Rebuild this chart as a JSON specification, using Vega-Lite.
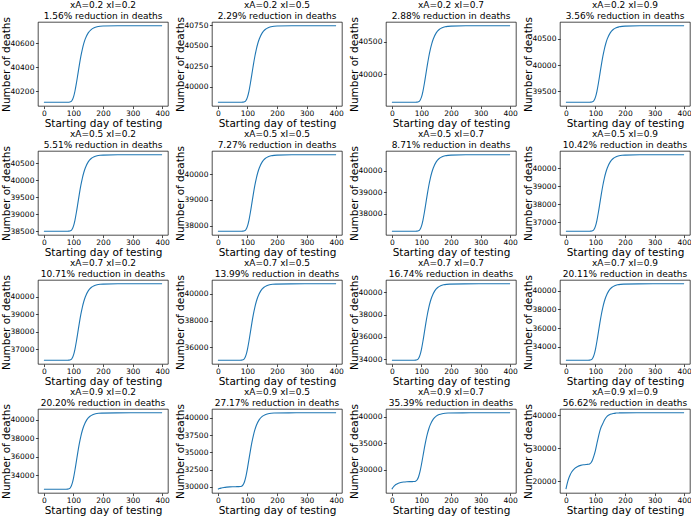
{
  "$schema": "https://vega.github.io/schema/vega-lite/v6.json",
  "background": "white",
  "padding": {"left": 0, "top": 0, "right": 0, "bottom": 0},
  "data": {
    "values": [
      {"p":1,"d":0,"n":40109},{"p":1,"d":40,"n":40109},{"p":1,"d":80,"n":40109},{"p":1,"d":85,"n":40109},{"p":1,"d":90,"n":40112},{"p":1,"d":95,"n":40123},{"p":1,"d":100,"n":40151},{"p":1,"d":105,"n":40200},{"p":1,"d":110,"n":40267},{"p":1,"d":115,"n":40343},{"p":1,"d":120,"n":40420},{"p":1,"d":125,"n":40490},{"p":1,"d":130,"n":40549},{"p":1,"d":135,"n":40598},{"p":1,"d":140,"n":40636},{"p":1,"d":150,"n":40686},{"p":1,"d":160,"n":40714},{"p":1,"d":170,"n":40729},{"p":1,"d":180,"n":40737},{"p":1,"d":190,"n":40741},{"p":1,"d":200,"n":40743},{"p":1,"d":250,"n":40745},{"p":1,"d":300,"n":40745},{"p":1,"d":400,"n":40745},
      {"p":2,"d":0,"n":39812},{"p":2,"d":40,"n":39812},{"p":2,"d":80,"n":39812},{"p":2,"d":85,"n":39813},{"p":2,"d":90,"n":39817},{"p":2,"d":95,"n":39833},{"p":2,"d":100,"n":39874},{"p":2,"d":105,"n":39945},{"p":2,"d":110,"n":40043},{"p":2,"d":115,"n":40155},{"p":2,"d":120,"n":40268},{"p":2,"d":125,"n":40370},{"p":2,"d":130,"n":40458},{"p":2,"d":135,"n":40529},{"p":2,"d":140,"n":40584},{"p":2,"d":150,"n":40659},{"p":2,"d":160,"n":40700},{"p":2,"d":170,"n":40722},{"p":2,"d":180,"n":40733},{"p":2,"d":190,"n":40739},{"p":2,"d":200,"n":40742},{"p":2,"d":250,"n":40745},{"p":2,"d":300,"n":40745},{"p":2,"d":400,"n":40745},
      {"p":3,"d":0,"n":39572},{"p":3,"d":40,"n":39572},{"p":3,"d":80,"n":39572},{"p":3,"d":85,"n":39573},{"p":3,"d":90,"n":39578},{"p":3,"d":95,"n":39599},{"p":3,"d":100,"n":39649},{"p":3,"d":105,"n":39739},{"p":3,"d":110,"n":39863},{"p":3,"d":115,"n":40004},{"p":3,"d":120,"n":40145},{"p":3,"d":125,"n":40274},{"p":3,"d":130,"n":40384},{"p":3,"d":135,"n":40473},{"p":3,"d":140,"n":40543},{"p":3,"d":150,"n":40637},{"p":3,"d":160,"n":40688},{"p":3,"d":170,"n":40715},{"p":3,"d":180,"n":40730},{"p":3,"d":190,"n":40737},{"p":3,"d":200,"n":40741},{"p":3,"d":250,"n":40745},{"p":3,"d":300,"n":40745},{"p":3,"d":400,"n":40745},
      {"p":4,"d":0,"n":39295},{"p":4,"d":40,"n":39295},{"p":4,"d":80,"n":39295},{"p":4,"d":85,"n":39296},{"p":4,"d":90,"n":39302},{"p":4,"d":95,"n":39328},{"p":4,"d":100,"n":39391},{"p":4,"d":105,"n":39502},{"p":4,"d":110,"n":39654},{"p":4,"d":115,"n":39829},{"p":4,"d":120,"n":40003},{"p":4,"d":125,"n":40163},{"p":4,"d":130,"n":40299},{"p":4,"d":135,"n":40409},{"p":4,"d":140,"n":40496},{"p":4,"d":150,"n":40611},{"p":4,"d":160,"n":40675},{"p":4,"d":170,"n":40709},{"p":4,"d":180,"n":40726},{"p":4,"d":190,"n":40735},{"p":4,"d":200,"n":40740},{"p":4,"d":250,"n":40745},{"p":4,"d":300,"n":40745},{"p":4,"d":400,"n":40745},
      {"p":5,"d":0,"n":38500},{"p":5,"d":40,"n":38500},{"p":5,"d":80,"n":38500},{"p":5,"d":85,"n":38501},{"p":5,"d":90,"n":38511},{"p":5,"d":95,"n":38551},{"p":5,"d":100,"n":38648},{"p":5,"d":105,"n":38820},{"p":5,"d":110,"n":39056},{"p":5,"d":115,"n":39326},{"p":5,"d":120,"n":39597},{"p":5,"d":125,"n":39844},{"p":5,"d":130,"n":40054},{"p":5,"d":135,"n":40225},{"p":5,"d":140,"n":40359},{"p":5,"d":150,"n":40538},{"p":5,"d":160,"n":40636},{"p":5,"d":170,"n":40688},{"p":5,"d":180,"n":40716},{"p":5,"d":190,"n":40730},{"p":5,"d":200,"n":40737},{"p":5,"d":250,"n":40745},{"p":5,"d":300,"n":40745},{"p":5,"d":400,"n":40745},
      {"p":6,"d":0,"n":37783},{"p":6,"d":40,"n":37783},{"p":6,"d":80,"n":37783},{"p":6,"d":85,"n":37785},{"p":6,"d":90,"n":37798},{"p":6,"d":95,"n":37850},{"p":6,"d":100,"n":37978},{"p":6,"d":105,"n":38205},{"p":6,"d":110,"n":38517},{"p":6,"d":115,"n":38873},{"p":6,"d":120,"n":39230},{"p":6,"d":125,"n":39556},{"p":6,"d":130,"n":39833},{"p":6,"d":135,"n":40059},{"p":6,"d":140,"n":40235},{"p":6,"d":150,"n":40471},{"p":6,"d":160,"n":40601},{"p":6,"d":170,"n":40670},{"p":6,"d":180,"n":40706},{"p":6,"d":190,"n":40725},{"p":6,"d":200,"n":40735},{"p":6,"d":250,"n":40745},{"p":6,"d":300,"n":40745},{"p":6,"d":400,"n":40745},
      {"p":7,"d":0,"n":37196},{"p":7,"d":40,"n":37196},{"p":7,"d":80,"n":37196},{"p":7,"d":85,"n":37198},{"p":7,"d":90,"n":37214},{"p":7,"d":95,"n":37276},{"p":7,"d":100,"n":37430},{"p":7,"d":105,"n":37702},{"p":7,"d":110,"n":38075},{"p":7,"d":115,"n":38502},{"p":7,"d":120,"n":38930},{"p":7,"d":125,"n":39320},{"p":7,"d":130,"n":39653},{"p":7,"d":135,"n":39923},{"p":7,"d":140,"n":40134},{"p":7,"d":150,"n":40417},{"p":7,"d":160,"n":40573},{"p":7,"d":170,"n":40656},{"p":7,"d":180,"n":40699},{"p":7,"d":190,"n":40721},{"p":7,"d":200,"n":40733},{"p":7,"d":250,"n":40745},{"p":7,"d":300,"n":40745},{"p":7,"d":400,"n":40745},
      {"p":8,"d":0,"n":36499},{"p":8,"d":40,"n":36499},{"p":8,"d":80,"n":36499},{"p":8,"d":85,"n":36502},{"p":8,"d":90,"n":36520},{"p":8,"d":95,"n":36595},{"p":8,"d":100,"n":36779},{"p":8,"d":105,"n":37105},{"p":8,"d":110,"n":37551},{"p":8,"d":115,"n":38061},{"p":8,"d":120,"n":38573},{"p":8,"d":125,"n":39040},{"p":8,"d":130,"n":39438},{"p":8,"d":135,"n":39761},{"p":8,"d":140,"n":40014},{"p":8,"d":150,"n":40353},{"p":8,"d":160,"n":40539},{"p":8,"d":170,"n":40638},{"p":8,"d":180,"n":40690},{"p":8,"d":190,"n":40717},{"p":8,"d":200,"n":40730},{"p":8,"d":250,"n":40745},{"p":8,"d":300,"n":40745},{"p":8,"d":400,"n":40745},
      {"p":9,"d":0,"n":36381},{"p":9,"d":40,"n":36381},{"p":9,"d":80,"n":36381},{"p":9,"d":85,"n":36384},{"p":9,"d":90,"n":36403},{"p":9,"d":95,"n":36480},{"p":9,"d":100,"n":36669},{"p":9,"d":105,"n":37003},{"p":9,"d":110,"n":37462},{"p":9,"d":115,"n":37987},{"p":9,"d":120,"n":38513},{"p":9,"d":125,"n":38993},{"p":9,"d":130,"n":39402},{"p":9,"d":135,"n":39734},{"p":9,"d":140,"n":39994},{"p":9,"d":150,"n":40342},{"p":9,"d":160,"n":40533},{"p":9,"d":170,"n":40635},{"p":9,"d":180,"n":40688},{"p":9,"d":190,"n":40716},{"p":9,"d":200,"n":40730},{"p":9,"d":250,"n":40745},{"p":9,"d":300,"n":40745},{"p":9,"d":400,"n":40745},
      {"p":10,"d":0,"n":35045},{"p":10,"d":35,"n":35045},{"p":10,"d":75,"n":35045},{"p":10,"d":80,"n":35049},{"p":10,"d":85,"n":35074},{"p":10,"d":90,"n":35174},{"p":10,"d":95,"n":35421},{"p":10,"d":100,"n":35858},{"p":10,"d":105,"n":36457},{"p":10,"d":110,"n":37142},{"p":10,"d":115,"n":37830},{"p":10,"d":120,"n":38457},{"p":10,"d":125,"n":38991},{"p":10,"d":130,"n":39424},{"p":10,"d":135,"n":39764},{"p":10,"d":145,"n":40218},{"p":10,"d":155,"n":40468},{"p":10,"d":165,"n":40601},{"p":10,"d":175,"n":40671},{"p":10,"d":185,"n":40707},{"p":10,"d":195,"n":40725},{"p":10,"d":245,"n":40744},{"p":10,"d":295,"n":40745},{"p":10,"d":400,"n":40745},
      {"p":11,"d":0,"n":33924},{"p":11,"d":35,"n":33924},{"p":11,"d":75,"n":33924},{"p":11,"d":80,"n":33928},{"p":11,"d":85,"n":33958},{"p":11,"d":90,"n":34078},{"p":11,"d":95,"n":34374},{"p":11,"d":100,"n":34897},{"p":11,"d":105,"n":35614},{"p":11,"d":110,"n":36433},{"p":11,"d":115,"n":37256},{"p":11,"d":120,"n":38006},{"p":11,"d":125,"n":38646},{"p":11,"d":130,"n":39165},{"p":11,"d":135,"n":39571},{"p":11,"d":145,"n":40115},{"p":11,"d":155,"n":40414},{"p":11,"d":165,"n":40573},{"p":11,"d":175,"n":40656},{"p":11,"d":185,"n":40699},{"p":11,"d":195,"n":40722},{"p":11,"d":245,"n":40744},{"p":11,"d":295,"n":40745},{"p":11,"d":400,"n":40745},
      {"p":12,"d":0,"n":32551},{"p":12,"d":35,"n":32551},{"p":12,"d":75,"n":32551},{"p":12,"d":80,"n":32556},{"p":12,"d":85,"n":32592},{"p":12,"d":90,"n":32736},{"p":12,"d":95,"n":33092},{"p":12,"d":100,"n":33720},{"p":12,"d":105,"n":34581},{"p":12,"d":110,"n":35566},{"p":12,"d":115,"n":36554},{"p":12,"d":120,"n":37455},{"p":12,"d":125,"n":38223},{"p":12,"d":130,"n":38847},{"p":12,"d":135,"n":39335},{"p":12,"d":145,"n":39988},{"p":12,"d":155,"n":40347},{"p":12,"d":165,"n":40539},{"p":12,"d":175,"n":40639},{"p":12,"d":185,"n":40690},{"p":12,"d":195,"n":40717},{"p":12,"d":245,"n":40744},{"p":12,"d":295,"n":40745},{"p":12,"d":400,"n":40745},
      {"p":13,"d":0,"n":32515},{"p":13,"d":35,"n":32515},{"p":13,"d":75,"n":32515},{"p":13,"d":80,"n":32520},{"p":13,"d":85,"n":32557},{"p":13,"d":90,"n":32701},{"p":13,"d":95,"n":33058},{"p":13,"d":100,"n":33689},{"p":13,"d":105,"n":34554},{"p":13,"d":110,"n":35543},{"p":13,"d":115,"n":36535},{"p":13,"d":120,"n":37441},{"p":13,"d":125,"n":38212},{"p":13,"d":130,"n":38838},{"p":13,"d":135,"n":39329},{"p":13,"d":145,"n":39985},{"p":13,"d":155,"n":40345},{"p":13,"d":165,"n":40538},{"p":13,"d":175,"n":40638},{"p":13,"d":185,"n":40690},{"p":13,"d":195,"n":40717},{"p":13,"d":245,"n":40744},{"p":13,"d":295,"n":40745},{"p":13,"d":400,"n":40745},
      {"p":14,"d":0,"n":29675},{"p":14,"d":5,"n":29759},{"p":14,"d":10,"n":29825},{"p":14,"d":15,"n":29875},{"p":14,"d":20,"n":29915},{"p":14,"d":30,"n":29970},{"p":14,"d":40,"n":30004},{"p":14,"d":50,"n":30024},{"p":14,"d":60,"n":30036},{"p":14,"d":70,"n":30044},{"p":14,"d":75,"n":30053},{"p":14,"d":80,"n":30102},{"p":14,"d":85,"n":30292},{"p":14,"d":90,"n":30757},{"p":14,"d":95,"n":31577},{"p":14,"d":100,"n":32701},{"p":14,"d":105,"n":33987},{"p":14,"d":110,"n":35276},{"p":14,"d":115,"n":36452},{"p":14,"d":120,"n":37454},{"p":14,"d":125,"n":38268},{"p":14,"d":130,"n":38905},{"p":14,"d":140,"n":39757},{"p":14,"d":150,"n":40225},{"p":14,"d":160,"n":40476},{"p":14,"d":170,"n":40606},{"p":14,"d":180,"n":40673},{"p":14,"d":190,"n":40708},{"p":14,"d":240,"n":40744},{"p":14,"d":290,"n":40745},{"p":14,"d":400,"n":40745},
      {"p":15,"d":0,"n":26325},{"p":15,"d":5,"n":26736},{"p":15,"d":10,"n":27031},{"p":15,"d":15,"n":27242},{"p":15,"d":20,"n":27393},{"p":15,"d":30,"n":27579},{"p":15,"d":40,"n":27674},{"p":15,"d":50,"n":27723},{"p":15,"d":60,"n":27748},{"p":15,"d":70,"n":27761},{"p":15,"d":75,"n":27773},{"p":15,"d":80,"n":27833},{"p":15,"d":85,"n":28063},{"p":15,"d":90,"n":28627},{"p":15,"d":95,"n":29622},{"p":15,"d":100,"n":30986},{"p":15,"d":105,"n":32545},{"p":15,"d":110,"n":34110},{"p":15,"d":115,"n":35537},{"p":15,"d":120,"n":36752},{"p":15,"d":125,"n":37739},{"p":15,"d":130,"n":38513},{"p":15,"d":140,"n":39546},{"p":15,"d":150,"n":40115},{"p":15,"d":160,"n":40418},{"p":15,"d":170,"n":40576},{"p":15,"d":180,"n":40658},{"p":15,"d":190,"n":40700},{"p":15,"d":240,"n":40743},{"p":15,"d":290,"n":40745},{"p":15,"d":400,"n":40745},
      {"p":16,"d":0,"n":17675},{"p":16,"d":5,"n":19611},{"p":16,"d":10,"n":21055},{"p":16,"d":15,"n":22130},{"p":16,"d":20,"n":22931},{"p":16,"d":30,"n":23974},{"p":16,"d":40,"n":24552},{"p":16,"d":50,"n":24874},{"p":16,"d":60,"n":25052},{"p":16,"d":70,"n":25152},{"p":16,"d":75,"n":25192},{"p":16,"d":80,"n":25300},{"p":16,"d":85,"n":25650},{"p":16,"d":90,"n":26500},{"p":16,"d":95,"n":27800},{"p":16,"d":100,"n":29400},{"p":16,"d":105,"n":31500},{"p":16,"d":110,"n":33500},{"p":16,"d":115,"n":35300},{"p":16,"d":120,"n":36600},{"p":16,"d":125,"n":37500},{"p":16,"d":130,"n":38500},{"p":16,"d":140,"n":39750},{"p":16,"d":150,"n":40300},{"p":16,"d":160,"n":40560},{"p":16,"d":170,"n":40670},{"p":16,"d":180,"n":40715},{"p":16,"d":190,"n":40735},{"p":16,"d":240,"n":40744},{"p":16,"d":290,"n":40745},{"p":16,"d":400,"n":40745}
    ]
  },
  "columns": 4,
  "bounds": "flush",
  "spacing": {"row": 45, "column": 44},
  "concat": [
    {"title": {"text": ["xA=0.2 xI=0.2", "1.56% reduction in deaths"]}, "width": 130, "height": 84, "transform": [{"filter": "datum.p == 1"}], "mark": {"type": "line", "interpolate": "monotone"},
     "encoding": {"x": {"field": "d", "type": "quantitative", "scale": {"domain": [-20, 420]}, "axis": {"values": [0, 100, 200, 300, 400], "title": "Starting day of testing"}},
                  "y": {"field": "n", "type": "quantitative", "scale": {"domain": [40077.2, 40776.8]}, "axis": {"values": [40200, 40400, 40600], "title": "Number of deaths"}}}},
    {"title": {"text": ["xA=0.2 xI=0.5", "2.29% reduction in deaths"]}, "width": 130, "height": 84, "transform": [{"filter": "datum.p == 2"}], "mark": {"type": "line", "interpolate": "monotone"},
     "encoding": {"x": {"field": "d", "type": "quantitative", "scale": {"domain": [-20, 420]}, "axis": {"values": [0, 100, 200, 300, 400], "title": "Starting day of testing"}},
                  "y": {"field": "n", "type": "quantitative", "scale": {"domain": [39765.35, 40791.65]}, "axis": {"values": [40000, 40250, 40500, 40750], "title": "Number of deaths"}}}},
    {"title": {"text": ["xA=0.2 xI=0.7", "2.88% reduction in deaths"]}, "width": 130, "height": 84, "transform": [{"filter": "datum.p == 3"}], "mark": {"type": "line", "interpolate": "monotone"},
     "encoding": {"x": {"field": "d", "type": "quantitative", "scale": {"domain": [-20, 420]}, "axis": {"values": [0, 100, 200, 300, 400], "title": "Starting day of testing"}},
                  "y": {"field": "n", "type": "quantitative", "scale": {"domain": [39513.35, 40803.65]}, "axis": {"values": [40000, 40500], "title": "Number of deaths"}}}},
    {"title": {"text": ["xA=0.2 xI=0.9", "3.56% reduction in deaths"]}, "width": 130, "height": 84, "transform": [{"filter": "datum.p == 4"}], "mark": {"type": "line", "interpolate": "monotone"},
     "encoding": {"x": {"field": "d", "type": "quantitative", "scale": {"domain": [-20, 420]}, "axis": {"values": [0, 100, 200, 300, 400], "title": "Starting day of testing"}},
                  "y": {"field": "n", "type": "quantitative", "scale": {"domain": [39222.5, 40817.5]}, "axis": {"values": [39500, 40000, 40500], "title": "Number of deaths"}}}},
    {"title": {"text": ["xA=0.5 xI=0.2", "5.51% reduction in deaths"]}, "width": 130, "height": 84, "transform": [{"filter": "datum.p == 5"}], "mark": {"type": "line", "interpolate": "monotone"},
     "encoding": {"x": {"field": "d", "type": "quantitative", "scale": {"domain": [-20, 420]}, "axis": {"values": [0, 100, 200, 300, 400], "title": "Starting day of testing"}},
                  "y": {"field": "n", "type": "quantitative", "scale": {"domain": [38387.75, 40857.25]}, "axis": {"values": [38500, 39000, 39500, 40000, 40500], "title": "Number of deaths"}}}},
    {"title": {"text": ["xA=0.5 xI=0.5", "7.27% reduction in deaths"]}, "width": 130, "height": 84, "transform": [{"filter": "datum.p == 6"}], "mark": {"type": "line", "interpolate": "monotone"},
     "encoding": {"x": {"field": "d", "type": "quantitative", "scale": {"domain": [-20, 420]}, "axis": {"values": [0, 100, 200, 300, 400], "title": "Starting day of testing"}},
                  "y": {"field": "n", "type": "quantitative", "scale": {"domain": [37634.9, 40893.1]}, "axis": {"values": [38000, 39000, 40000], "title": "Number of deaths"}}}},
    {"title": {"text": ["xA=0.5 xI=0.7", "8.71% reduction in deaths"]}, "width": 130, "height": 84, "transform": [{"filter": "datum.p == 7"}], "mark": {"type": "line", "interpolate": "monotone"},
     "encoding": {"x": {"field": "d", "type": "quantitative", "scale": {"domain": [-20, 420]}, "axis": {"values": [0, 100, 200, 300, 400], "title": "Starting day of testing"}},
                  "y": {"field": "n", "type": "quantitative", "scale": {"domain": [37018.55, 40922.45]}, "axis": {"values": [38000, 39000, 40000], "title": "Number of deaths"}}}},
    {"title": {"text": ["xA=0.5 xI=0.9", "10.42% reduction in deaths"]}, "width": 130, "height": 84, "transform": [{"filter": "datum.p == 8"}], "mark": {"type": "line", "interpolate": "monotone"},
     "encoding": {"x": {"field": "d", "type": "quantitative", "scale": {"domain": [-20, 420]}, "axis": {"values": [0, 100, 200, 300, 400], "title": "Starting day of testing"}},
                  "y": {"field": "n", "type": "quantitative", "scale": {"domain": [36286.7, 40957.3]}, "axis": {"values": [37000, 38000, 39000, 40000], "title": "Number of deaths"}}}},
    {"title": {"text": ["xA=0.7 xI=0.2", "10.71% reduction in deaths"]}, "width": 130, "height": 84, "transform": [{"filter": "datum.p == 9"}], "mark": {"type": "line", "interpolate": "monotone"},
     "encoding": {"x": {"field": "d", "type": "quantitative", "scale": {"domain": [-20, 420]}, "axis": {"values": [0, 100, 200, 300, 400], "title": "Starting day of testing"}},
                  "y": {"field": "n", "type": "quantitative", "scale": {"domain": [36162.8, 40963.2]}, "axis": {"values": [37000, 38000, 39000, 40000], "title": "Number of deaths"}}}},
    {"title": {"text": ["xA=0.7 xI=0.5", "13.99% reduction in deaths"]}, "width": 130, "height": 84, "transform": [{"filter": "datum.p == 10"}], "mark": {"type": "line", "interpolate": "monotone"},
     "encoding": {"x": {"field": "d", "type": "quantitative", "scale": {"domain": [-20, 420]}, "axis": {"values": [0, 100, 200, 300, 400], "title": "Starting day of testing"}},
                  "y": {"field": "n", "type": "quantitative", "scale": {"domain": [34760, 41030]}, "axis": {"values": [36000, 38000, 40000], "title": "Number of deaths"}}}},
    {"title": {"text": ["xA=0.7 xI=0.7", "16.74% reduction in deaths"]}, "width": 130, "height": 84, "transform": [{"filter": "datum.p == 11"}], "mark": {"type": "line", "interpolate": "monotone"},
     "encoding": {"x": {"field": "d", "type": "quantitative", "scale": {"domain": [-20, 420]}, "axis": {"values": [0, 100, 200, 300, 400], "title": "Starting day of testing"}},
                  "y": {"field": "n", "type": "quantitative", "scale": {"domain": [33582.95, 41086.05]}, "axis": {"values": [34000, 36000, 38000, 40000], "title": "Number of deaths"}}}},
    {"title": {"text": ["xA=0.7 xI=0.9", "20.11% reduction in deaths"]}, "width": 130, "height": 84, "transform": [{"filter": "datum.p == 12"}], "mark": {"type": "line", "interpolate": "monotone"},
     "encoding": {"x": {"field": "d", "type": "quantitative", "scale": {"domain": [-20, 420]}, "axis": {"values": [0, 100, 200, 300, 400], "title": "Starting day of testing"}},
                  "y": {"field": "n", "type": "quantitative", "scale": {"domain": [32141.3, 41154.7]}, "axis": {"values": [34000, 36000, 38000, 40000], "title": "Number of deaths"}}}},
    {"title": {"text": ["xA=0.9 xI=0.2", "20.20% reduction in deaths"]}, "width": 130, "height": 84, "transform": [{"filter": "datum.p == 13"}], "mark": {"type": "line", "interpolate": "monotone"},
     "encoding": {"x": {"field": "d", "type": "quantitative", "scale": {"domain": [-20, 420]}, "axis": {"values": [0, 100, 200, 300, 400], "title": "Starting day of testing"}},
                  "y": {"field": "n", "type": "quantitative", "scale": {"domain": [32103.5, 41156.5]}, "axis": {"values": [34000, 36000, 38000, 40000], "title": "Number of deaths"}}}},
    {"title": {"text": ["xA=0.9 xI=0.5", "27.17% reduction in deaths"]}, "width": 130, "height": 84, "transform": [{"filter": "datum.p == 14"}], "mark": {"type": "line", "interpolate": "monotone"},
     "encoding": {"x": {"field": "d", "type": "quantitative", "scale": {"domain": [-20, 420]}, "axis": {"values": [0, 100, 200, 300, 400], "title": "Starting day of testing"}},
                  "y": {"field": "n", "type": "quantitative", "scale": {"domain": [29121.5, 41298.5]}, "axis": {"values": [30000, 32500, 35000, 37500, 40000], "title": "Number of deaths"}}}},
    {"title": {"text": ["xA=0.9 xI=0.7", "35.39% reduction in deaths"]}, "width": 130, "height": 84, "transform": [{"filter": "datum.p == 15"}], "mark": {"type": "line", "interpolate": "monotone"},
     "encoding": {"x": {"field": "d", "type": "quantitative", "scale": {"domain": [-20, 420]}, "axis": {"values": [0, 100, 200, 300, 400], "title": "Starting day of testing"}},
                  "y": {"field": "n", "type": "quantitative", "scale": {"domain": [25604, 41466]}, "axis": {"values": [30000, 35000, 40000], "title": "Number of deaths"}}}},
    {"title": {"text": ["xA=0.9 xI=0.9", "56.62% reduction in deaths"]}, "width": 130, "height": 84, "transform": [{"filter": "datum.p == 16"}], "mark": {"type": "line", "interpolate": "monotone"},
     "encoding": {"x": {"field": "d", "type": "quantitative", "scale": {"domain": [-20, 420]}, "axis": {"values": [0, 100, 200, 300, 400], "title": "Starting day of testing"}},
                  "y": {"field": "n", "type": "quantitative", "scale": {"domain": [16521.5, 41898.5]}, "axis": {"values": [20000, 30000, 40000], "title": "Number of deaths"}}}}
  ],
  "config": {
    "font": "DejaVu Sans",
    "view": {"stroke": "#000000", "strokeWidth": 0.7},
    "axis": {
      "grid": false,
      "domain": false,
      "format": "d",
      "tickColor": "#000000",
      "tickWidth": 0.7,
      "tickSize": 2.6,
      "labelColor": "#000000",
      "labelFont": "DejaVu Sans",
      "labelFontSize": 7.5,
      "labelPadding": 1.5,
      "labelOverlap": false,
      "labelBound": false,
      "labelFlush": false,
      "titleColor": "#000000",
      "titleFont": "DejaVu Sans",
      "titleFontSize": 10.5,
      "titleFontWeight": "normal",
      "titlePadding": 1
    },
    "axisX": {"labelPadding": 1, "titlePadding": 1},
    "axisY": {"titlePadding": -1},
    "title": {"font": "DejaVu Sans", "fontSize": 9, "fontWeight": "normal", "color": "#000000", "anchor": "middle", "frame": "group", "baseline": "bottom", "offset": -4.5, "lineHeight": 10.8},
    "line": {"color": "#1f77b4", "strokeWidth": 1.1}
  }
}
